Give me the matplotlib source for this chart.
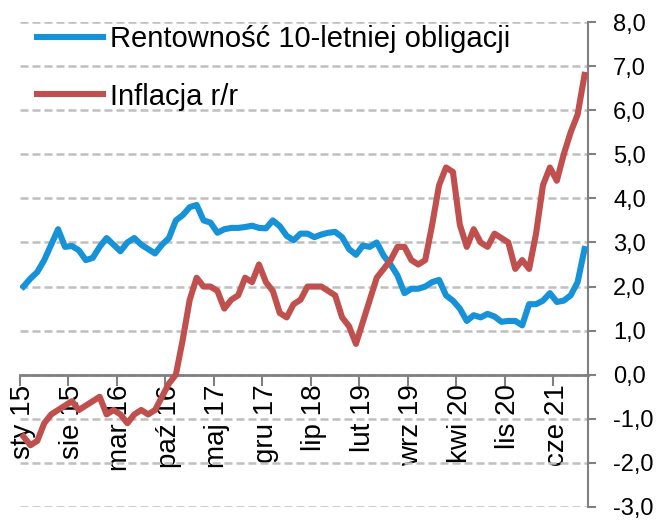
import matplotlib
matplotlib.use("Agg")
import matplotlib.pyplot as plt
from matplotlib.ticker import FixedLocator, FuncFormatter

plt.rcParams['font.family'] = ['Liberation Sans', 'DejaVu Sans']

# monthly data, sty 2015 - paź 2021
yield_10y = [2.0, 2.18, 2.33, 2.6, 2.95, 3.3, 2.9, 2.92, 2.82, 2.6, 2.65, 2.9,
             3.1, 2.95, 2.8, 3.0, 3.1, 2.95, 2.85, 2.75, 2.95, 3.1, 3.5, 3.62,
             3.8, 3.85, 3.5, 3.45, 3.22, 3.3, 3.33, 3.33, 3.35, 3.38, 3.33, 3.32,
             3.5, 3.37, 3.15, 3.05, 3.2, 3.2, 3.12, 3.18, 3.22, 3.24, 3.12, 2.85,
             2.72, 2.93, 2.9, 3.0, 2.7, 2.5, 2.25, 1.85, 1.95, 1.95, 2.0, 2.1,
             2.15, 1.8, 1.68, 1.5, 1.22, 1.35, 1.3, 1.38, 1.32, 1.2, 1.22, 1.22,
             1.12, 1.6, 1.6, 1.68, 1.85, 1.65, 1.68, 1.8, 2.1, 2.85]
inflation = [-1.4, -1.6, -1.5, -1.1, -0.9, -0.8, -0.7, -0.6, -0.8, -0.7, -0.6, -0.5,
             -0.9, -0.8, -0.9, -1.1, -0.9, -0.8, -0.9, -0.8, -0.5, -0.2, 0.0, 0.8,
             1.7, 2.2, 2.0, 2.0, 1.9, 1.5, 1.7, 1.8, 2.2, 2.1, 2.5, 2.1,
             1.9, 1.4, 1.3, 1.6, 1.7, 2.0, 2.0, 2.0, 1.9, 1.8, 1.3, 1.1,
             0.7, 1.2, 1.7, 2.2, 2.4, 2.6, 2.9, 2.9, 2.6, 2.5, 2.6, 3.4,
             4.3, 4.7, 4.6, 3.4, 2.9, 3.3, 3.0, 2.9, 3.2, 3.1, 3.0, 2.4,
             2.6, 2.4, 3.2, 4.3, 4.7, 4.4, 5.0, 5.5, 5.9, 6.8]
tick_labels = ['sty 15', 'sie 15', 'mar 16', 'paź 16', 'maj 17', 'gru 17',
               'lip 18', 'lut 19', 'wrz 19', 'kwi 20', 'lis 20', 'cze 21']
label_step = 7

months = list(range(len(inflation)))

fig = plt.figure(figsize=(6.58, 5.20), dpi=100)
ax = fig.add_axes([20 / 658, 13 / 520, 568 / 658, 485 / 520])

ax.plot(months, yield_10y, color='#1592D8', lw=4.4, solid_joinstyle='round',
        label='Rentowność 10-letniej obligacji', zorder=3)
ax.plot(months, inflation, color='#C0504D', lw=4.4, solid_joinstyle='round',
        label='Inflacja r/r', zorder=3)

ax.set_xlim(-0.5, len(months) - 0.5)
ax.set_ylim(-3, 8)

# y axis on the right
ax.yaxis.tick_right()
ax.set_yticks(range(-3, 9))
ax.yaxis.set_major_formatter(FuncFormatter(lambda v, p: f'{v:.1f}'.replace('.', ',')))
ax.tick_params(axis='y', direction='out', length=6, width=1.5, color='#808080',
               labelsize=17, pad=12)
ax.yaxis.grid(True, linestyle=(0, (3.2, 1.6)), color='#BFBFBF', linewidth=1.8)
ax.set_axisbelow(True)

# x axis crossing at zero, ticks between categories
label_pos = [i * label_step for i in range(len(tick_labels))]
ax.set_xticks(label_pos)
ax.set_xticklabels(tick_labels)
ax.xaxis.set_minor_locator(FixedLocator([p - 0.5 for p in label_pos]))
ax.tick_params(axis='x', which='major', length=0, labelsize=20, pad=7,
               labelrotation=90)
ax.tick_params(axis='x', which='minor', direction='out', length=8, width=1.5,
               color='#808080')

for s in ['left', 'top']:
    ax.spines[s].set_visible(False)
ax.spines['bottom'].set_position(('data', 0))
ax.spines['bottom'].set_color('#808080')
ax.spines['bottom'].set_linewidth(2)
ax.spines['bottom'].set_zorder(2)
ax.spines['right'].set_color('#808080')
ax.spines['right'].set_linewidth(1.5)

ax.legend(loc='upper left', bbox_to_anchor=(0.03, 0.993), frameon=False,
          fontsize=21, handlelength=2.25, handletextpad=0.25, labelspacing=1.0,
          borderpad=0, borderaxespad=0)

fig.savefig('out.png', dpi=100)
